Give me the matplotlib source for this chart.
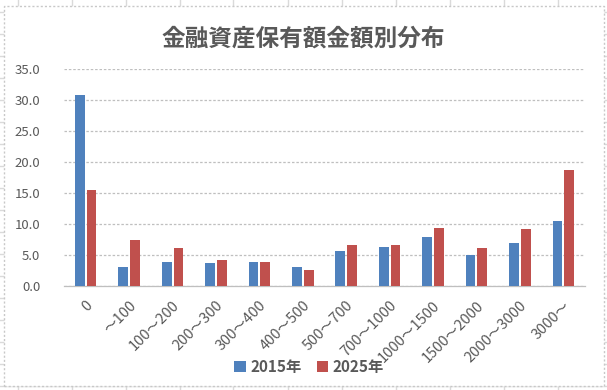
import matplotlib
matplotlib.use("Agg")
import matplotlib.pyplot as plt
import matplotlib.transforms as mtransforms
import numpy as np
from matplotlib.lines import Line2D
from matplotlib.patches import Rectangle

plt.rcParams['font.family'] = ['Noto Sans CJK JP', 'DejaVu Sans']

categories = ["0", "～100", "100～200", "200～300", "300～400", "400～500",
              "500～700", "700～1000", "1000～1500", "1500～2000", "2000～3000", "3000～"]
values_2015 = [30.9, 3.0, 3.9, 3.7, 3.9, 3.0, 5.7, 6.3, 7.9, 5.0, 6.9, 10.5]
values_2025 = [15.5, 7.5, 6.1, 4.2, 3.9, 2.6, 6.6, 6.6, 9.4, 6.1, 9.2, 18.7]
series_names = ["2015年", "2025年"]
yticks = [0, 5, 10, 15, 20, 25, 30, 35]
title = "金融資産保有額金額別分布"

W, H = 607, 390
fig = plt.figure(figsize=(W / 100, H / 100), dpi=100)
fig.patch.set_facecolor("white")

# spreadsheet background grid
grid_c = "#DADADA"
for x in np.arange(17.5, W, 54):
    fig.add_artist(Line2D([x / W, x / W], [0, 1], color=grid_c, lw=1.0, zorder=-3))
for y in np.arange(12, H, 22):
    fig.add_artist(Line2D([0, 1], [1 - y / H, 1 - y / H], color=grid_c, lw=1.0, zorder=-3))
# chart area
x0, y0, x1, y1 = 3.5, 6, 603.5, 386
fig.add_artist(Rectangle((x0 / W, 1 - y1 / H), (x1 - x0) / W, (y1 - y0) / H,
                         facecolor="white", edgecolor="#C8C8C8", lw=1.0,
                         linestyle=(0, (1.5, 1.5)), zorder=-2))

ax = fig.add_axes([64 / W, 1 - 286 / H, (585 - 64) / W, (286 - 69.3) / H])
ax.set_facecolor("none")

x = np.arange(len(categories))
bw = 0.225
off = 0.135
blue = "#4F81BD"
red = "#C0504D"
ax.bar(x - off, values_2015, width=bw, color=blue, label=series_names[0], zorder=3)
ax.bar(x + off, values_2025, width=bw, color=red, label=series_names[1], zorder=3)

ax.set_xlim(-0.5, len(categories) - 0.5)
ax.set_ylim(0, 35)
ax.set_yticks(yticks)
ax.set_yticklabels([f"{v:.1f}" for v in yticks])
ax.yaxis.grid(True, color="#BFBFBF", lw=0.9, linestyle=(0, (2, 1.5)), zorder=0)
ax.set_axisbelow(True)
for s in ["left", "right", "top"]:
    ax.spines[s].set_visible(False)
ax.spines["bottom"].set_color("#BFBFBF")
ax.spines["bottom"].set_linewidth(0.9)

txt = "#595959"
ax.tick_params(axis="y", length=0, pad=17, labelsize=9.5, labelcolor=txt)
ax.tick_params(axis="x", length=0, pad=9, labelsize=10.5, labelcolor=txt)
ax.set_xticks(x)
ax.set_xticklabels(categories, rotation=45, ha="right", rotation_mode="anchor")

fig.text(303 / W, 1 - 39 / H, title, ha="center", va="center", fontsize=17,
         fontweight="bold", color=txt)

leg = fig.legend(loc="center", bbox_to_anchor=(309 / W, 1 - 367 / H), ncol=2,
                 frameon=False, handlelength=0.75, handleheight=0.75,
                 handletextpad=0.3, columnspacing=1.0,
                 prop={"size": 11, "weight": "bold"})
for t in leg.get_texts():
    t.set_color(txt)

fig.savefig("out.png", dpi=100, facecolor="white")
